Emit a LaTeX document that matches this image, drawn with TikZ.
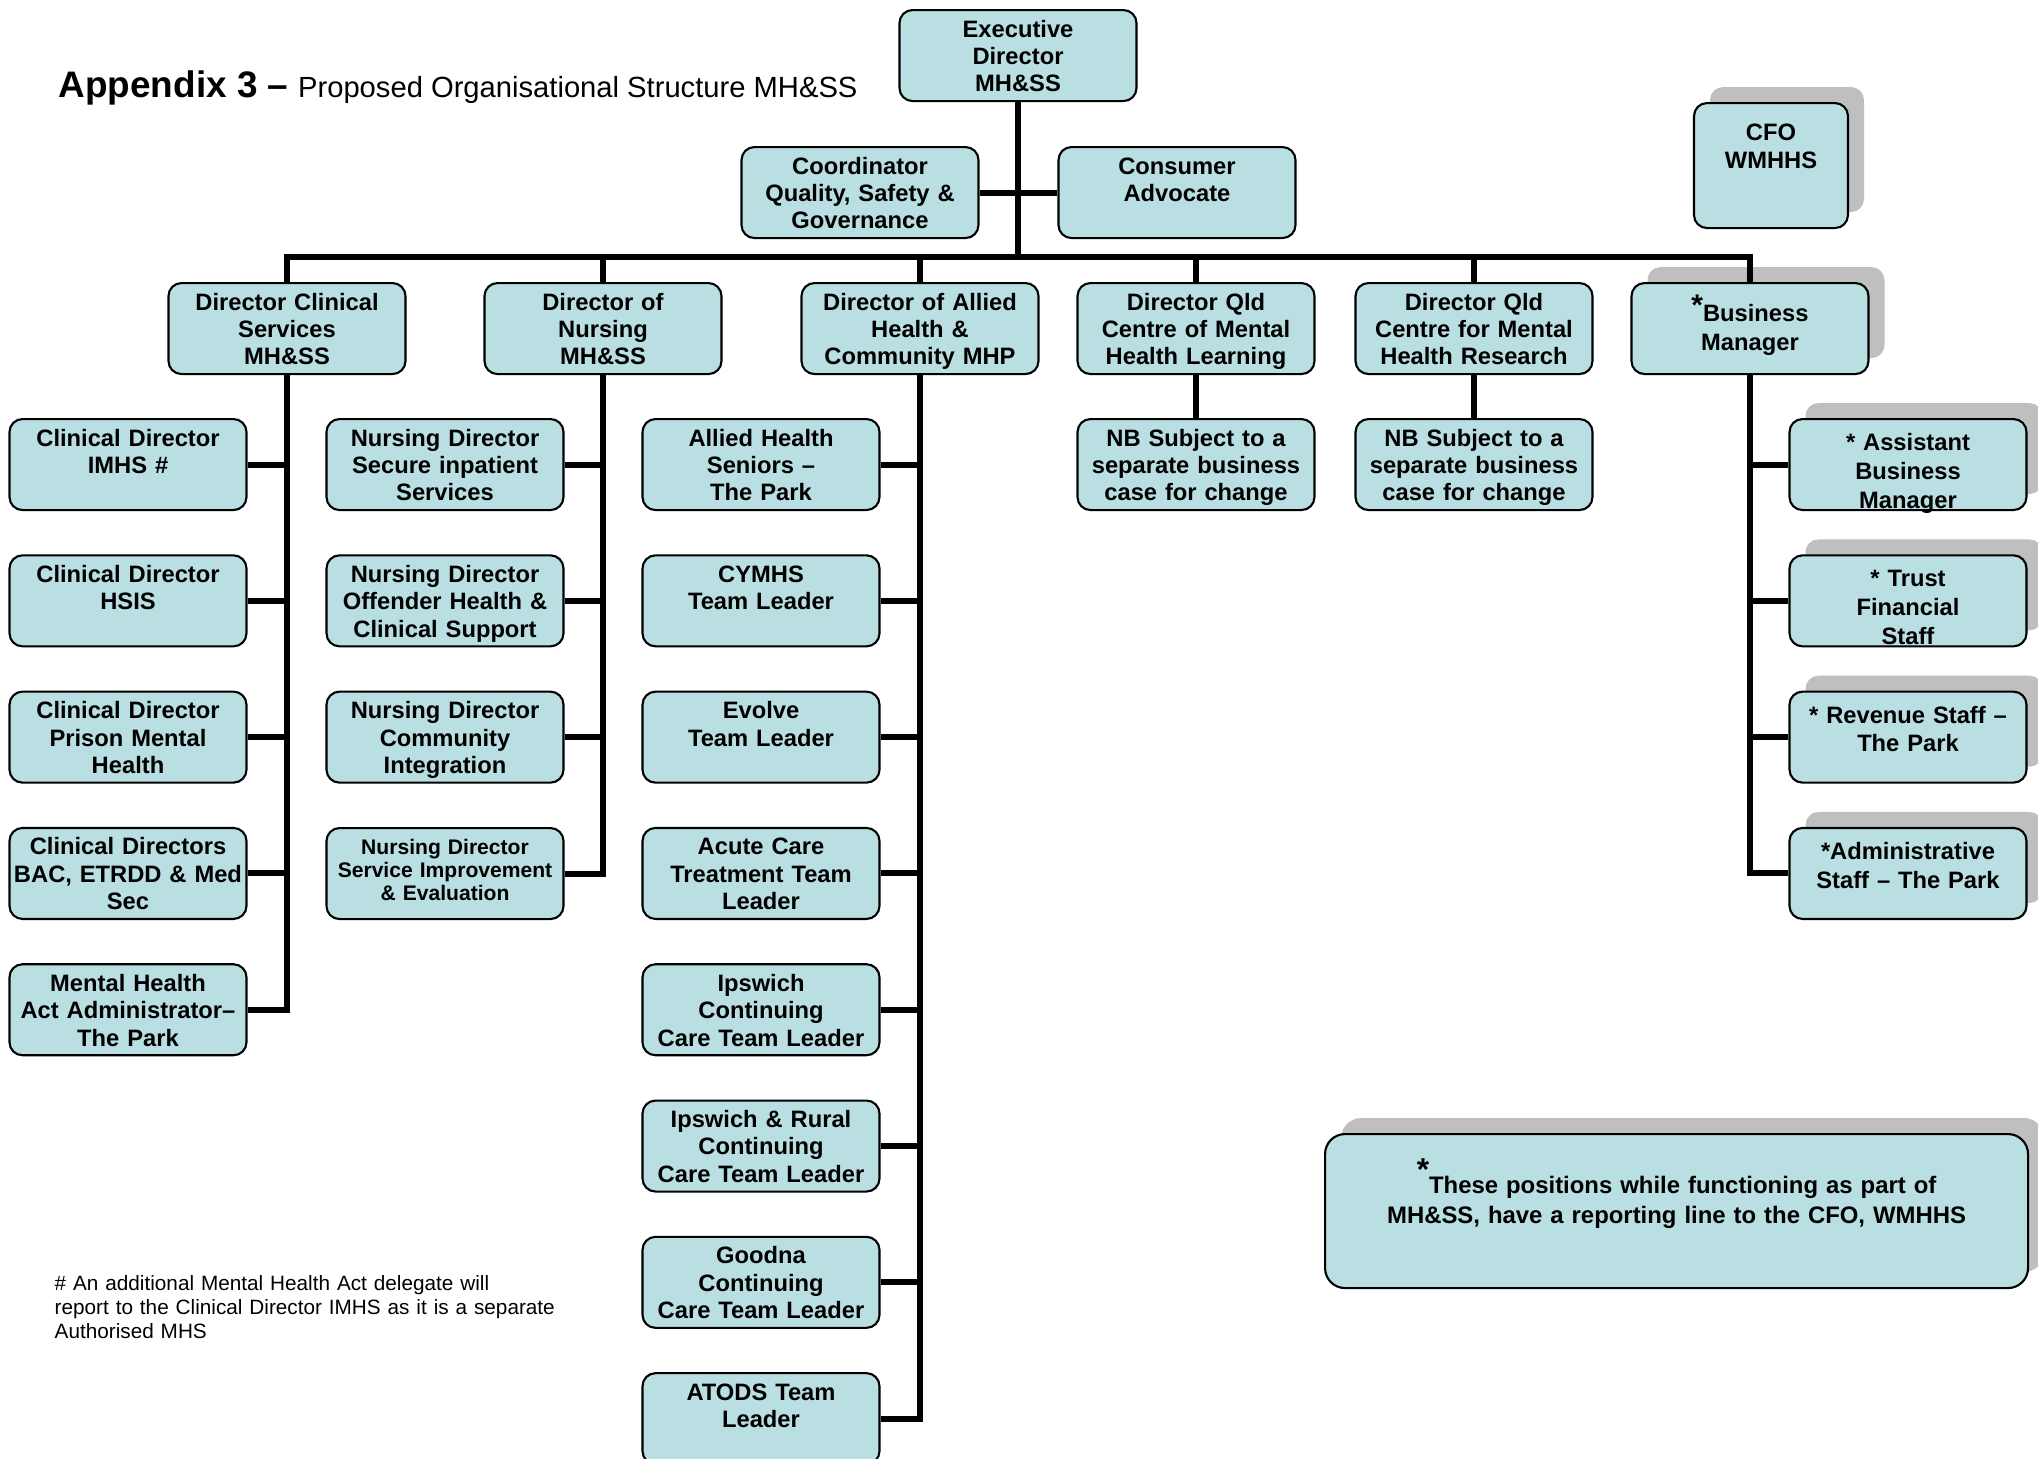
\documentclass[tikz,border=0pt]{standalone}
\usepackage{fontspec}
\setmainfont{Liberation Sans}
\usetikzlibrary{shadows}
\definecolor{boxfill}{RGB}{185,223,227}
\definecolor{shadowgray}{RGB}{191,191,191}
\newcommand{\boxfont}{\fontsize{6.75}{7.8}\selectfont\bfseries}
\newcommand{\smallboxfont}{\fontsize{6}{6.6}\selectfont\bfseries}
\newcommand{\sidefont}{\fontsize{6.75}{8.2}\selectfont\bfseries}
\newcommand{\notefont}{\fontsize{6.8}{8.8}\selectfont\bfseries}
\tikzset{
  orgbox/.style={draw, line width=0.6pt, fill=boxfill, rounded corners=1.3mm,
    text width=23.7mm, align=center, inner sep=0pt,
    text height=2.7mm, text depth=6.4mm, font=\boxfont, anchor=north},
  shadebox/.style={drop shadow={shadow xshift=1.6mm, shadow yshift=1.6mm,
    fill=shadowgray, opacity=1}},
  sidebox/.style={orgbox, shadebox, font=\sidefont, text height=3.15mm, text depth=5.95mm},
  link/.style={line width=1.7pt},
}

\begin{document}
\begin{tikzpicture}[x=0.1mm, y=-0.1mm]
  \useasboundingbox (0,0) rectangle (2038,1459);
  \clip (0,0) rectangle (2038,1459);

  % Title
  \node[anchor=base west, inner sep=0pt] (title) at (58,97)
    {{\fontsize{10.5}{12}\selectfont\bfseries Appendix 3 --} {\fontsize{8.3}{10}\selectfont Proposed Organisational Structure MH\&SS}};

  % Top level
  \node[orgbox] (exec) at (1018,9) {Executive\\Director\\MH\&SS};
  \node[orgbox] (coord) at (860,146) {Coordinator\\Quality, Safety \&\\Governance};
  \node[orgbox] (cons) at (1177,146) {Consumer\\Advocate};
  \node[orgbox, shadebox, font=\sidefont, text width=15.4mm, text height=3.7mm, text depth=8.8mm]
    (cfo) at (1771,102) {CFO\\WMHHS};

  % Directors
  \node[orgbox] (dcs) at (287,282) {Director Clinical\\Services\\MH\&SS};
  \node[orgbox] (dnu) at (603,282) {Director of\\Nursing\\MH\&SS};
  \node[orgbox] (dah) at (920,282) {Director of Allied\\Health \&\\Community MHP};
  \node[orgbox] (dlearn) at (1196,282) {Director Qld\\Centre of Mental\\Health Learning};
  \node[orgbox] (dres) at (1474,282) {Director Qld\\Centre for Mental\\Health Research};
  \node[orgbox, shadebox, font=\sidefont, text height=3.85mm, text depth=5.25mm]
    (bm) at (1750,282) {\raisebox{0.6mm}{\fontsize{8.5}{8.5}\selectfont*}Business\\Manager};

  \node[orgbox] (nblearn) at (1196,418) {NB Subject to a\\separate business\\case for change};
  \node[orgbox] (nbres) at (1474,418) {NB Subject to a\\separate business\\case for change};

  % Clinical services
  \foreach \i/\txt in {1/{Clinical Director\\IMHS \#}, 2/{Clinical Director\\HSIS},
      3/{Clinical Director\\Prison Mental\\Health}, 4/{Clinical Directors\\BAC, ETRDD \& Med\\Sec},
      5/{Mental Health\\Act Administrator--\\The Park}}
    \node[orgbox] (cd\i) at (128,{418+136.3*(\i-1)}) {\txt};

  % Nursing
  \foreach \i/\txt in {1/{Nursing Director\\Secure inpatient\\Services},
      2/{Nursing Director\\Offender Health \&\\Clinical Support},
      3/{Nursing Director\\Community\\Integration}}
    \node[orgbox] (nd\i) at (445,{418+136.3*(\i-1)}) {\txt};
  \node[orgbox, font=\smallboxfont, text height=2.65mm, text depth=6.45mm]
    (nd4) at (445,827) {Nursing Director\\Service Improvement\\\& Evaluation};

  % Allied health
  \foreach \i/\txt in {1/{Allied Health\\Seniors --\\The Park}, 2/{CYMHS\\Team Leader},
      3/{Evolve\\Team Leader}, 4/{Acute Care\\Treatment Team\\Leader},
      5/{Ipswich\\Continuing\\Care Team Leader}, 6/{Ipswich \& Rural\\Continuing\\Care Team Leader},
      7/{Goodna\\Continuing\\Care Team Leader}, 8/{ATODS Team\\Leader}}
    \node[orgbox] (ah\i) at (761,{418+136.3*(\i-1)}) {\txt};

  % Business
  \foreach \i/\txt in {1/{* Assistant\\Business\\Manager}, 2/{* Trust\\Financial\\Staff},
      3/{* Revenue Staff --\\The Park}, 4/{*Administrative\\Staff -- The Park}}
    \node[sidebox] (rs\i) at (1908,{418+136.3*(\i-1)}) {\txt};

  % Notes
  \node[orgbox, shadebox, anchor=north west, font=\notefont, rounded corners=2mm,
    text width=70.3mm, text height=5.9mm, text depth=9.5mm] (note) at (1324,1133)
    {\raisebox{1.3mm}{\fontsize{9}{9}\selectfont*}These positions while functioning as part of\\MH\&SS, have a reporting line to the CFO, WMHHS};
  \node[anchor=base west, inner sep=0pt, text width=60mm, align=left,
    font=\fontsize{5.9}{6.95}\selectfont] (fnote) at (54,1290)
    {\# An additional Mental Health Act delegate will\\report to the Clinical Director IMHS as it is a separate\\Authorised MHS};

  % Lines
  \coordinate (bar) at (0,257);
  \draw[link] (exec.south) -- (exec.south |- bar);
  \draw[link] (coord.east) -- (cons.west);
  \draw[link] (dcs.north) |- (bm.north |- bar) -- (bm.north);
  \foreach \n in {dnu,dah,dlearn,dres}
    \draw[link] (\n.north) -- (\n.north |- bar);
  \draw[link] (dlearn.south) -- (nblearn.north);
  \draw[link] (dres.south) -- (nbres.north);

  \draw[link] (dcs.south) |- (cd5.east);
  \foreach \i in {1,...,4}
    \draw[link] (cd\i.east) -- (cd\i.east -| dcs.south);
  \draw[link] (dnu.south) |- (nd4.east);
  \foreach \i in {1,2,3}
    \draw[link] (nd\i.east) -- (nd\i.east -| dnu.south);
  \draw[link] (dah.south) |- (ah8.east);
  \foreach \i in {1,...,7}
    \draw[link] (ah\i.east) -- (ah\i.east -| dah.south);
  \draw[link] (bm.south) |- (rs4.west);
  \foreach \i in {1,2,3}
    \draw[link] (bm.south |- rs\i.west) -- (rs\i.west);
\end{tikzpicture}
\end{document}
